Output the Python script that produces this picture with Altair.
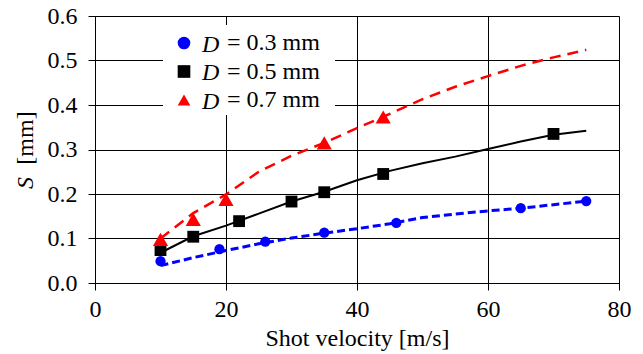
import altair as alt
import pandas as pd

# ---- data ----
series = ["= 0.3 mm", "= 0.5 mm", "= 0.7 mm"]

vel_03 = [10, 19, 26, 35, 46, 65, 75]
s_03 = [0.049, 0.076, 0.093, 0.113, 0.135, 0.168, 0.184]
vel_05 = [10, 15, 22, 30, 35, 44, 70]
s_05 = [0.074, 0.104, 0.139, 0.183, 0.204, 0.245, 0.335]
vel_07 = [10, 15, 20, 35, 44]
s_07 = [0.098, 0.143, 0.188, 0.315, 0.373]

v_line = [10, 15, 20, 25, 30, 35, 40, 45, 50, 55, 60, 65, 70, 75]
line_03 = [0.039, 0.057, 0.073, 0.088, 0.101, 0.112, 0.122, 0.133, 0.147, 0.155, 0.162, 0.168, 0.176, 0.184]
line_05 = [0.068, 0.105, 0.129, 0.156, 0.183, 0.205, 0.231, 0.252, 0.269, 0.284, 0.301, 0.318, 0.333, 0.342]
line_07 = [0.100, 0.157, 0.199, 0.250, 0.286, 0.315, 0.348, 0.380, 0.413, 0.441, 0.465, 0.488, 0.507, 0.524]

x_ticks = [0, 20, 40, 60, 80]
y_ticks = [0.0, 0.1, 0.2, 0.3, 0.4, 0.5, 0.6]

FONT = "Liberation Serif"
FS = 24
W, H = 524, 267
COLORS = ["#0000ff", "#000000", "#ff0000"]
SHAPES = ["circle", "square", "triangle-up"]
SIZES = [105, 140, 230]

xs = alt.Scale(domain=[0, 80], nice=False, zero=False)
ys = alt.Scale(domain=[0, 0.6], nice=False, zero=False)

x_axis = alt.Axis(
    values=x_ticks, format="d", title="Shot velocity [m/s]", grid=True,
    gridColor="black", gridWidth=1, gridOpacity=1, domainColor="black", domainWidth=1,
    tickColor="black", tickSize=7, tickWidth=1, labelFont=FONT, labelFontSize=FS,
    labelColor="black", labelPadding=7, titleFont=FONT, titleFontSize=FS,
    titleFontWeight="normal", titleColor="black", titlePadding=5, labelFlush=False,
)
y_axis = alt.Axis(
    values=y_ticks, format=".1f", title=None, grid=True,
    gridColor="black", gridWidth=1, gridOpacity=1, domainColor="black", domainWidth=1,
    tickColor="black", tickSize=7, tickWidth=1, labelFont=FONT, labelFontSize=FS,
    labelColor="black", labelPadding=11, labelFlush=False,
)

base_x = alt.X("v:Q", scale=xs, axis=x_axis)
base_y = alt.Y("s:Q", scale=ys, axis=y_axis)

# white box behind the legend (hides grid lines there)
legend_box = alt.Chart(pd.DataFrame({"a": [0]})).mark_rect(color="white").encode(
    x=alt.value(68), x2=alt.value(240), y=alt.value(9), y2=alt.value(99)
)

def line_layer(vals, color, dash, width):
    df = pd.DataFrame({"v": v_line, "s": vals})
    if dash:
        mark = alt.Chart(df).mark_line(color=color, strokeWidth=width, strokeDash=dash)
    else:
        mark = alt.Chart(df).mark_line(color=color, strokeWidth=width)
    return mark.encode(x=base_x, y=base_y)

l03 = line_layer(line_03, COLORS[0], [8, 4], 3)
l05 = line_layer(line_05, COLORS[1], None, 2)
l07 = line_layer(line_07, COLORS[2], [11, 7], 2.5)

leg = alt.Legend(
    title=None, orient="none", legendX=68, legendY=6, padding=9,
    labelFont=FONT, labelFontSize=FS, labelColor="black", labelOffset=31,
    rowPadding=4.5, symbolStrokeWidth=0, symbolOpacity=1, symbolSize=160,
)
color_enc = alt.Color("series:N", scale=alt.Scale(domain=series, range=COLORS), legend=leg)
shape_enc = alt.Shape("series:N", scale=alt.Scale(domain=series, range=SHAPES), legend=leg)

point_layers = []
for name, vv, ss, size in zip(series, [vel_03, vel_05, vel_07], [s_03, s_05, s_07], SIZES):
    df = pd.DataFrame({"v": vv, "s": ss, "series": [name] * len(vv)})
    point_layers.append(
        alt.Chart(df).mark_point(filled=True, opacity=1, size=size).encode(
            x=base_x, y=base_y, color=color_enc, shape=shape_enc
        )
    )

def text_at(txt, x, y, style="normal", angle=0, align="left"):
    params = dict(text=txt, font=FONT, fontSize=FS, fontStyle=style, color="black",
                  align=align, baseline="alphabetic")
    if angle:
        params["angle"] = angle
    return alt.Chart(pd.DataFrame({"a": [0]})).mark_text(**params).encode(
        x=alt.value(x), y=alt.value(y)
    )

d_labels = [text_at("D", 107, 35.5 + 28.5 * i, style="italic") for i in range(3)]
y_title = [
    text_at("[mm]", -62, 122, angle=270, align="center"),
    text_at("S", -62, 167, style="italic", angle=270, align="center"),
]

chart = alt.layer(legend_box, l03, l05, l07, *point_layers, *d_labels, *y_title).properties(
    width=W, height=H,
    autosize=alt.AutoSizeParams(type="none"),
    padding={"left": 95, "top": 16, "right": 24, "bottom": 71},
    background="white",
).configure_view(stroke=None)

chart.save("out.html", embed_options={"renderer": "svg", "actions": False})
